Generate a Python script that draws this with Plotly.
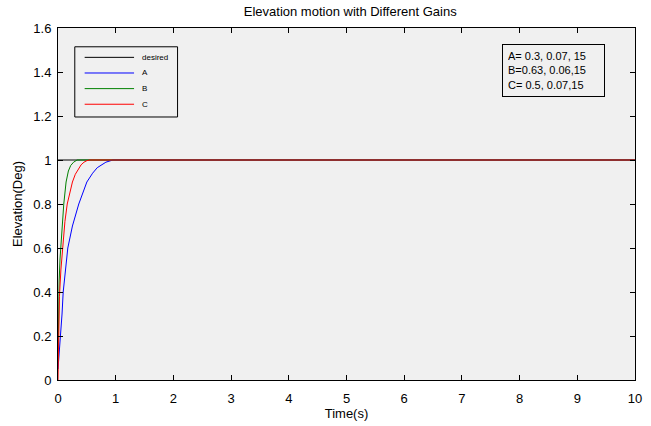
import plotly.graph_objects as go

# Data
desired_t = [0, 10]
desired_y = [1, 1]

a_t = [0, 0.02, 0.047, 0.07, 0.09, 0.13, 0.17, 0.25, 0.36, 0.5, 0.6, 0.68, 0.76, 0.83, 0.95, 10]
a_y = [0.05, 0.12, 0.2, 0.3, 0.4, 0.5, 0.6, 0.7, 0.8, 0.9, 0.94, 0.965, 0.98, 0.99, 1.0, 1.0]

b_t = [0, 0.01, 0.02, 0.035, 0.05, 0.07, 0.1, 0.14, 0.18, 0.22, 0.27, 0.33, 10]
b_y = [0.08, 0.3, 0.45, 0.55, 0.62, 0.7, 0.8, 0.9, 0.95, 0.975, 0.99, 1.0, 1.0]

c_t = [0, 0.01, 0.025, 0.05, 0.08, 0.12, 0.16, 0.2, 0.25, 0.3, 0.35, 0.4, 0.45, 0.5, 0.55, 10]
c_y = [0.0, 0.2, 0.38, 0.5, 0.6, 0.72, 0.8, 0.85, 0.9, 0.935, 0.96, 0.978, 0.99, 0.997, 1.0, 1.0]

series_names = ["desired", "A", "B", "C"]
series_colors = ["#000000", "#0000ff", "#008000", "#ff0000"]

x_ticks = list(range(0, 11))
y_ticks = [0, 0.2, 0.4, 0.6, 0.8, 1, 1.2, 1.4, 1.6]
y_tick_text = ["0", "0.2", "0.4", "0.6", "0.8", "1", "1.2", "1.4", "1.6"]

gains_text = ["A= 0.3, 0.07, 15", "B=0.63, 0.06,15", "C= 0.5, 0.07,15"]

FONT = "Liberation Sans, Arial, sans-serif"

fig = go.Figure()
for (t, y), name, col in zip([(desired_t, desired_y), (a_t, a_y), (b_t, b_y), (c_t, c_y)],
                             series_names, series_colors):
    fig.add_trace(go.Scatter(x=t, y=y, mode="lines", name=name,
                             line=dict(color=col, width=1), showlegend=False))

axis_common = dict(showline=True, linecolor="#000000", linewidth=1, mirror="ticks",
                   ticks="inside", ticklen=5, tickcolor="#000000", showgrid=False,
                   zeroline=False, tickfont=dict(family=FONT, size=13, color="#000000"))

fig.update_layout(
    width=651, height=426,
    margin=dict(l=58, r=9, t=28, b=42),
    paper_bgcolor="#ffffff",
    plot_bgcolor="#f0f0f0",
    font=dict(family=FONT, size=13, color="#000000"),
    title=dict(text="Elevation motion with Different Gains", x=0.538, xanchor="center",
               y=0.972, yanchor="middle", font=dict(size=13, family=FONT, color="#000000")),
    xaxis=dict(range=[0, 10], tickvals=x_ticks, ticklabelstandoff=6,
               title=dict(text="Time(s)", standoff=2, font=dict(size=13, family=FONT)),
               **axis_common),
    yaxis=dict(range=[0, 1.6], tickvals=y_ticks, ticktext=y_tick_text, ticklabelstandoff=3,
               title=dict(text="Elevation(Deg)", standoff=7, font=dict(size=13, family=FONT)),
               **axis_common),
    showlegend=False,
)

# Legend box drawn manually (MATLAB-style compact legend)
fig.add_shape(type="rect", xref="paper", yref="paper", x0=0.0291, x1=0.2072,
              y0=0.7472, y1=0.9466, line=dict(color="#000000", width=1), fillcolor="rgba(0,0,0,0)")
leg_y = [0.9166, 0.8722, 0.8278, 0.7834]
for name, col, ly in zip(series_names, series_colors, leg_y):
    fig.add_shape(type="line", xref="paper", yref="paper", x0=0.0462, x1=0.1318,
                  y0=ly, y1=ly, line=dict(color=col, width=1))
    fig.add_annotation(xref="paper", yref="paper", x=0.1418, y=ly, xanchor="left",
                       yanchor="middle", text=name, showarrow=False,
                       font=dict(family=FONT, size=8, color="#000000"))

fig.add_annotation(
    xref="paper", yref="paper", x=0.769, y=0.955, xanchor="left", yanchor="top",
    text="<br>".join(gains_text),
    showarrow=False, align="left", bordercolor="#000000", borderwidth=1, borderpad=5,
    bgcolor="#f0f0f0", width=91,
    font=dict(family=FONT, size=11, color="#000000"),
)

fig.write_html("out.html")
